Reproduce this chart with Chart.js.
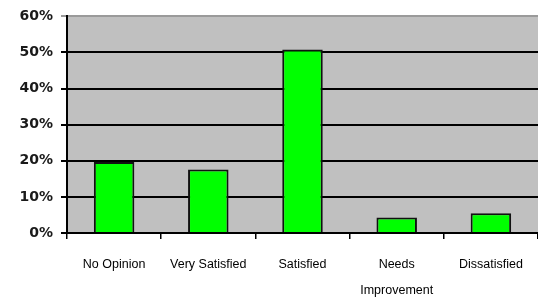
<!DOCTYPE html>
<html>
<head>
<meta charset="utf-8">
<script src="https://cdn.jsdelivr.net/npm/chart.js@4/dist/chart.umd.min.js"></script>
<style>
html,body{margin:0;padding:0;background:#fff;}
#wrap{width:538px;height:299px;position:relative;}
</style>
</head>
<body>
<div id="wrap"><canvas id="c" width="538" height="299"></canvas></div>
<script>
const categories = [["No Opinion"], ["Very Satisfied"], ["Satisfied"], ["Needs", "Improvement"], ["Dissatisfied"]];
const percentValues = [19.7, 17.6, 50.8, 4.3, 5.5];
const yTickValues = [0, 10, 20, 30, 40, 50, 60];

const plotBg = {
  id: 'plotBg',
  beforeDraw(chart) {
    const a = chart.chartArea, ctx = chart.ctx;
    ctx.save();
    ctx.fillStyle = '#C0C0C0';
    ctx.fillRect(a.left, a.top, a.right - a.left, a.bottom - a.top);
    ctx.restore();
  }
};

new Chart(document.getElementById('c'), {
  type: 'bar',
  data: {
    labels: categories,
    datasets: [{
      data: percentValues,
      backgroundColor: '#00FF00',
      borderColor: '#111111',
      borderWidth: 2,
      barPercentage: 0.43,
      categoryPercentage: 1.0
    }]
  },
  options: {
    responsive: false,
    animation: false,
    layout: { padding: { top: 16, left: 0, right: 0, bottom: 0 } },
    plugins: { legend: { display: false }, tooltip: { enabled: false } },
    scales: {
      x: {
        grid: { display: true, drawOnChartArea: false, color: '#000', lineWidth: 1.5, tickLength: 6, offset: true },
        border: { display: true, color: '#000', width: 2 },
        ticks: {
          color: '#000',
          font: { family: 'Liberation Sans Narrow, Liberation Sans, Arial', size: 12.5, lineHeight: 2.1 },
          padding: 12,
          maxRotation: 0,
          autoSkip: false
        },
        afterFit(s) { s.height = 66; }
      },
      y: {
        min: 0, max: 60,
        afterBuildTicks(s) { s.ticks = yTickValues.map(v => ({ value: v })); },
        grid: {
          color: (c) => (c.tick && c.tick.value === 60) ? '#9a9a9a' : '#000',
          lineWidth: 2,
          tickLength: 6
        },
        border: { display: true, color: '#000', width: 2 },
        ticks: {
          color: '#1a1a1a',
          font: { family: 'DejaVu Sans', size: 14, weight: 'bold' },
          padding: 8,
          callback: (v) => v + '%'
        },
        afterFit(s) { s.width = 67; }
      }
    }
  },
  plugins: [plotBg]
});
</script>
</body>
</html>
